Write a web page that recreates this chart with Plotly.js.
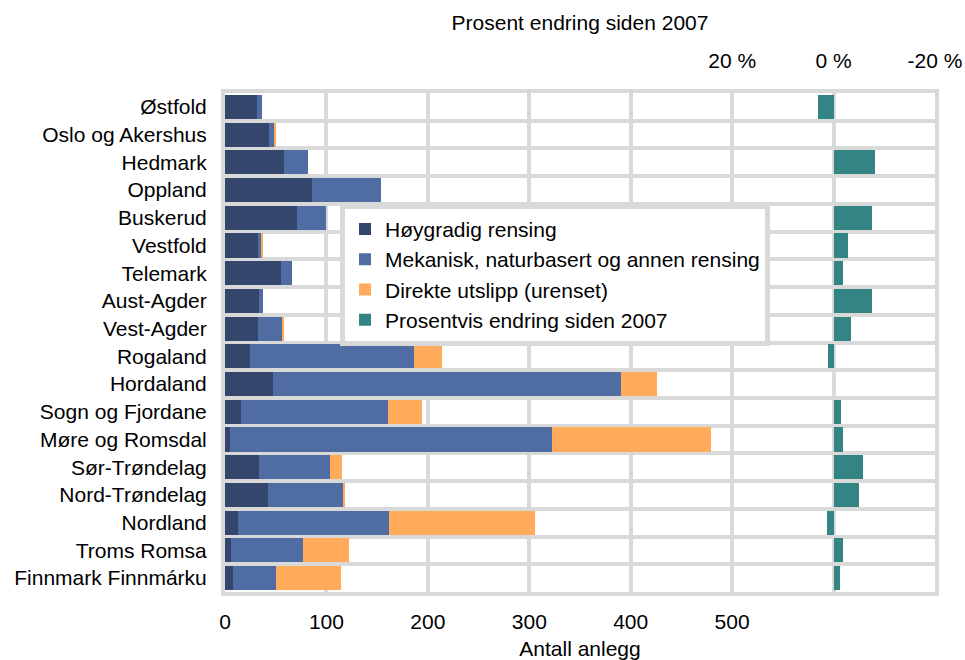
<!DOCTYPE html>
<html>
<head>
<meta charset="utf-8">
<script src="https://cdn.plot.ly/plotly-3.0.1.min.js"></script>
<style>html,body{margin:0;padding:0;background:#fff;}#chart{width:965px;height:660px;}</style>
</head>
<body>
<div id="chart"></div>
<script>
const regions = ["Østfold","Oslo og Akershus","Hedmark","Oppland","Buskerud","Vestfold","Telemark","Aust-Agder","Vest-Agder","Rogaland","Hordaland","Sogn og Fjordane","Møre og Romsdal","Sør-Trøndelag","Nord-Trøndelag","Nordland","Troms Romsa","Finnmark Finnmárku"];
const hoygradig = [32,43,58,86,71,33,55,34,33,25,47,16,5,34,42,13,6,8];
const mekanisk  = [4,5,24,68,29,2,11,3,23,161,343,145,317,70,74,149,71,42];
const direkte   = [0,2,0,0,0,2,0,0,2,28,36,33,157,11,2,144,45,64];
const endring   = [3,0,-8.2,0,-7.6,-2.8,-1.8,-7.5,-3.5,1.1,0,-1.4,-1.8,-5.9,-5.1,1.2,-1.9,-1.2];
const countTicks = [0,100,200,300,400,500,600,700];
const countTickText = ["0","100","200","300","400","500","",""];
const pctTicks = [20,0,-20];
const pctTickText = ["20 %","0 %","-20 %"];

const FONT = "Liberation Sans, Arial, sans-serif";
const GRID = "#d9d9d9";

const traces = [
  {type:"bar", orientation:"h", name:"Høygradig rensing", y:regions, x:hoygradig,
   marker:{color:"#34466b"}, xaxis:"x", yaxis:"y", hoverinfo:"x+y"},
  {type:"bar", orientation:"h", name:"Mekanisk, naturbasert og annen rensing", y:regions, x:mekanisk,
   marker:{color:"#4f6ca3"}, xaxis:"x", yaxis:"y", hoverinfo:"x+y"},
  {type:"bar", orientation:"h", name:"Direkte utslipp (urenset)", y:regions, x:direkte,
   marker:{color:"#ffab5b"}, xaxis:"x", yaxis:"y", hoverinfo:"x+y"},
  {type:"bar", orientation:"h", name:"Prosentvis endring siden 2007", y:regions, x:endring,
   marker:{color:"#338583"}, xaxis:"x2", yaxis:"y", hoverinfo:"x+y"}
];

const layout = {
  width:965, height:660,
  margin:{l:225, r:30, t:93, b:68},
  paper_bgcolor:"#fff", plot_bgcolor:"#fff",
  font:{family:FONT, size:21, color:"#000"},
  barmode:"stack", bargap:0.13,
  showlegend:true,
  legend:{x:0.162, y:0.778, xanchor:"left", yanchor:"top", bgcolor:"#fff",
          bordercolor:GRID, borderwidth:5, font:{family:FONT, size:21, color:"#000"},
          traceorder:"normal", tracegroupgap:0, itemwidth:30},
  xaxis:{range:[0,700], tickvals:countTicks, ticktext:countTickText, showgrid:true,
         gridcolor:GRID, gridwidth:4, zeroline:false, showline:true, linecolor:GRID,
         linewidth:4, mirror:true, ticks:"", ticklabelstandoff:8,
         title:{text:"Antall anlegg", standoff:10, font:{family:FONT, size:21, color:"#000"}},
         tickfont:{family:FONT, size:21, color:"#000"}, fixedrange:true},
  xaxis2:{overlaying:"x", side:"top", range:[120,-20], tickvals:pctTicks, ticktext:pctTickText,
          showgrid:false, zeroline:false, showline:false, ticks:"", ticklabelstandoff:20,
          title:{text:"Prosent endring siden 2007", standoff:12, font:{family:FONT, size:21, color:"#000"}},
          tickfont:{family:FONT, size:21, color:"#000"}, fixedrange:true},
  yaxis:{type:"category", autorange:"reversed", tickson:"boundaries", showgrid:true,
         gridcolor:GRID, gridwidth:4, showline:true, linecolor:GRID, linewidth:4, mirror:true,
         ticks:"", ticklabelstandoff:10, zeroline:false,
         tickfont:{family:FONT, size:21, color:"#000"}, fixedrange:true}
};

Plotly.newPlot("chart", traces, layout, {displayModeBar:false, staticPlot:true});
</script>
</body>
</html>
